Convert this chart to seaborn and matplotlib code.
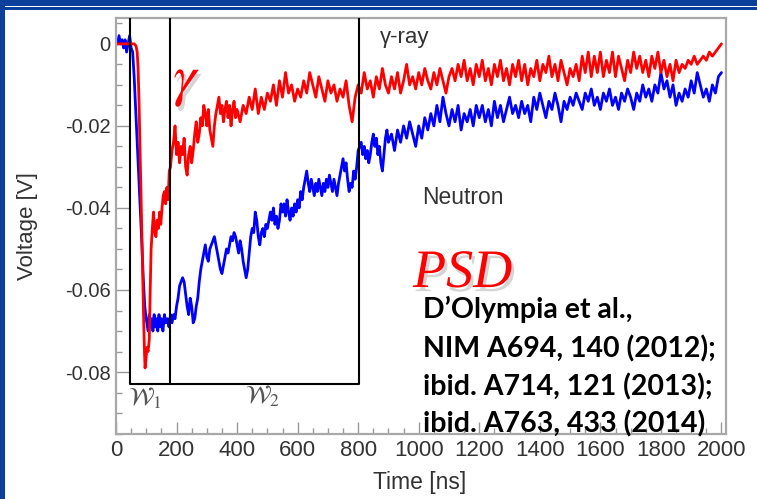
import numpy as np
import pandas as pd
import matplotlib
matplotlib.use("Agg")
import matplotlib.pyplot as plt
import matplotlib.patheffects as pe
from matplotlib.patches import Rectangle
from matplotlib.ticker import MultipleLocator
import seaborn as sns

# ---------------- data ----------------
# gamma-ray pulse (red): rising part sampled densely, tail every 10 ns
red_pulse_t = [0, 10, 20, 30, 40, 50, 60, 66, 70, 73, 76, 79, 82, 85, 88, 91, 94, 96, 99, 102,
               106, 110, 113, 116, 120, 124, 128, 132, 136, 140, 144, 148, 152, 156, 160, 164,
               168, 172, 176, 180, 185, 190, 195, 200, 205, 210, 215, 220, 225, 230, 235, 240,
               245, 250, 255, 260, 265, 270, 275, 280, 285, 290, 295, 300, 305, 310, 315, 320,
               325, 330, 335, 340, 345, 350, 355, 360, 365, 370, 375, 380, 385, 390, 395]
red_pulse_v = [0.000, 0.000, 0.000, 0.000, 0.000, 0.000, 0.000, -0.0005, -0.002, -0.006, -0.014,
               -0.024, -0.034, -0.045, -0.056, -0.066, -0.075, -0.079, -0.077, -0.074, -0.075,
               -0.072, -0.060, -0.050, -0.045, -0.041, -0.046, -0.047, -0.043, -0.045, -0.041,
               -0.044, -0.040, -0.037, -0.036, -0.039, -0.035, -0.038, -0.031, -0.030, -0.026,
               -0.024, -0.020, -0.027, -0.024, -0.029, -0.025, -0.027, -0.023, -0.030, -0.032,
               -0.027, -0.025, -0.029, -0.026, -0.022, -0.019, -0.024, -0.022, -0.018, -0.020,
               -0.015, -0.017, -0.020, -0.016, -0.021, -0.023, -0.025, -0.020, -0.017, -0.015,
               -0.013, -0.017, -0.015, -0.019, -0.016, -0.014, -0.018, -0.015, -0.020, -0.016,
               -0.014, -0.018]
red_tail_start = 400
red_tail_v = [-0.016, -0.019, -0.015, -0.017, -0.013, -0.016, -0.011, -0.017, -0.013, -0.016,
              -0.012, -0.014, -0.010, -0.015, -0.009, -0.013, -0.007, -0.012, -0.010, -0.014,
              -0.011, -0.013, -0.009, -0.012, -0.007, -0.010, -0.013, -0.008, -0.011, -0.014,
              -0.009, -0.012, -0.010, -0.014, -0.011, -0.013, -0.009, -0.015, -0.019, -0.013,
              -0.010, -0.012, -0.007, -0.011, -0.009, -0.013, -0.008, -0.011, -0.006, -0.010,
              -0.012, -0.008, -0.011, -0.007, -0.012, -0.009, -0.005, -0.010, -0.008, -0.011,
              -0.007, -0.010, -0.006, -0.009, -0.011, -0.007, -0.010, -0.006, -0.009, -0.012,
              -0.008, -0.006, -0.009, -0.005, -0.008, -0.004, -0.009, -0.006, -0.010, -0.005,
              -0.008, -0.004, -0.009, -0.006, -0.010, -0.005, -0.008, -0.004, -0.009, -0.006,
              -0.010, -0.005, -0.008, -0.004, -0.009, -0.005, -0.010, -0.006, -0.008, -0.004,
              -0.009, -0.005, -0.007, -0.003, -0.008, -0.005, -0.009, -0.004, -0.007, -0.010,
              -0.006, -0.008, -0.005, -0.009, -0.003, -0.007, -0.002, -0.008, -0.003, -0.007,
              -0.002, -0.008, -0.004, -0.007, -0.002, -0.008, -0.003, -0.006, -0.009, -0.004,
              -0.007, -0.002, -0.006, -0.003, -0.007, -0.004, -0.008, -0.003, -0.006, -0.002,
              -0.007, -0.004, -0.008, -0.005, -0.009, -0.004, -0.007, -0.005, -0.006, -0.004,
              -0.005, -0.003, -0.005, -0.004, -0.003, -0.004, -0.002, -0.003, -0.002, -0.001,
              0.000]

# neutron pulse (blue)
blue_pulse_t = [0, 5, 10, 15, 20, 25, 30, 35, 40, 45, 50, 55, 60, 65, 70, 75, 80, 85, 90, 95,
                98, 102, 106, 110, 114, 118, 122, 126, 130, 134, 138, 142, 146, 150, 155, 160,
                165, 170, 175, 180, 185, 190, 195]
blue_pulse_v = [0.001, 0.000, 0.002, 0.000, 0.001, -0.001, 0.001, -0.002, 0.000, 0.002, -0.001,
                -0.002, -0.008, -0.016, -0.024, -0.032, -0.040, -0.048, -0.057, -0.064, -0.066,
                -0.068, -0.070, -0.066, -0.069, -0.067, -0.070, -0.066, -0.069, -0.067, -0.070,
                -0.066, -0.069, -0.067, -0.070, -0.066, -0.068, -0.067, -0.069, -0.066, -0.068,
                -0.066, -0.067]
blue_mid_start = 200   # 5 ns steps
blue_mid_v = [-0.064, -0.062, -0.059, -0.058, -0.057, -0.058, -0.061, -0.064, -0.066, -0.062,
              -0.064, -0.068, -0.067, -0.064, -0.062, -0.058, -0.055, -0.053, -0.051, -0.049,
              -0.052, -0.053, -0.050, -0.049, -0.048, -0.047, -0.049, -0.051, -0.053, -0.055,
              -0.056, -0.054, -0.052, -0.050, -0.051, -0.049, -0.047, -0.048, -0.046, -0.047,
              -0.049, -0.051, -0.048, -0.050, -0.053, -0.055, -0.057, -0.055, -0.051, -0.047,
              -0.045, -0.046, -0.041, -0.043, -0.047, -0.049, -0.046, -0.045, -0.047, -0.044,
              -0.045, -0.043, -0.041, -0.043, -0.040, -0.044, -0.042, -0.045, -0.043, -0.039,
              -0.041, -0.039, -0.042, -0.038, -0.041, -0.043, -0.040, -0.042, -0.039, -0.041,
              -0.038, -0.040, -0.036, -0.038, -0.035, -0.033, -0.031, -0.034, -0.036, -0.033,
              -0.035, -0.037, -0.034, -0.036, -0.033, -0.035, -0.037, -0.034, -0.036, -0.033,
              -0.035, -0.032, -0.034, -0.036, -0.033, -0.035, -0.037, -0.034, -0.032, -0.030,
              -0.028, -0.031, -0.029, -0.033, -0.036, -0.034, -0.035, -0.031, -0.033, -0.030,
              -0.026, -0.025, -0.024, -0.027, -0.025, -0.028, -0.026, -0.029, -0.027, -0.024,
              -0.022, -0.025, -0.023, -0.027, -0.025, -0.029, -0.031, -0.027, -0.023, -0.021]
blue_tail_start = 900  # 10 ns steps
blue_tail_v = [-0.024, -0.022, -0.026, -0.021, -0.024, -0.020, -0.023, -0.019, -0.022, -0.025,
               -0.020, -0.023, -0.018, -0.021, -0.017, -0.020, -0.015, -0.019, -0.013, -0.017,
               -0.020, -0.016, -0.019, -0.015, -0.021, -0.017, -0.019, -0.016, -0.020, -0.015,
               -0.018, -0.015, -0.019, -0.016, -0.020, -0.014, -0.018, -0.015, -0.019, -0.016,
               -0.013, -0.017, -0.015, -0.018, -0.014, -0.017, -0.015, -0.019, -0.013, -0.016,
               -0.012, -0.015, -0.018, -0.014, -0.016, -0.012, -0.015, -0.019, -0.014, -0.016,
               -0.013, -0.015, -0.012, -0.014, -0.016, -0.012, -0.014, -0.011, -0.015, -0.013,
               -0.016, -0.012, -0.014, -0.011, -0.015, -0.013, -0.016, -0.012, -0.014, -0.011,
               -0.013, -0.016, -0.012, -0.014, -0.010, -0.013, -0.011, -0.014, -0.010, -0.012,
               -0.007, -0.011, -0.009, -0.013, -0.010, -0.015, -0.012, -0.014, -0.011, -0.013,
               -0.009, -0.012, -0.007, -0.010, -0.013, -0.011, -0.014, -0.010, -0.012, -0.008,
               -0.007]

window_edges = [47, 177, 802]          # ns
window_bottom = -0.0828                 # V
x_ticks = [0, 200, 400, 600, 800, 1000, 1200, 1400, 1600, 1800, 2000]
y_ticks = [0, -0.02, -0.04, -0.06, -0.08]
y_tick_labels = ["0", "-0.02", "-0.04", "-0.06", "-0.08"]

citation = ["D\u2019Olympia et al.,", "NIM A694, 140 (2012);",
            "ibid. A714, 121 (2013);", "ibid. A763, 433 (2014)"]

# ---------------- assemble ----------------
red_t = red_pulse_t + [red_tail_start + 10 * i for i in range(len(red_tail_v))]
red_v = red_pulse_v + red_tail_v
blue_t = (blue_pulse_t + [blue_mid_start + 5 * i for i in range(len(blue_mid_v))]
          + [blue_tail_start + 10 * i for i in range(len(blue_tail_v))])
blue_v = blue_pulse_v + blue_mid_v + blue_tail_v
df_red = pd.DataFrame({"t": red_t, "v": red_v})
df_blue = pd.DataFrame({"t": blue_t, "v": blue_v})

sns.set_theme(style="white")
plt.rcParams["font.family"] = ["Liberation Sans", "DejaVu Sans"]
plt.rcParams["mathtext.fontset"] = "stix"

W, H = 757, 499
SLIDE_BLUE = "#0a3f9c"
fig = plt.figure(figsize=(W / 100, H / 100), dpi=100)
fig.patch.set_facecolor("white")
# slide frame: blue strip on the left and a blue band on top with a thin white rule
fig.add_artist(Rectangle((0, 0), 5 / W, 1, transform=fig.transFigure,
                         facecolor=SLIDE_BLUE, edgecolor="none", zorder=-10))
fig.add_artist(Rectangle((0, 1 - 6 / H), 1, 6 / H, transform=fig.transFigure,
                         facecolor=SLIDE_BLUE, edgecolor="none", zorder=-10))
fig.add_artist(Rectangle((0, 1 - 10 / H), 1, 3 / H, transform=fig.transFigure,
                         facecolor=SLIDE_BLUE, edgecolor="none", zorder=-10))

ax = fig.add_axes([116 / W, 1 - 434 / H, (726 - 116) / W, (434 - 18) / H])
ax.set_zorder(2)
ax.set_facecolor("white")

sns.lineplot(data=df_blue, x="t", y="v", ax=ax, color="#0000ff", lw=2.0, sort=False,
             estimator=None)
sns.lineplot(data=df_red, x="t", y="v", ax=ax, color="#ff0000", lw=2.0, sort=False,
             estimator=None)

ax.set_xlim(0, 2015)
ax.set_ylim(-0.0951, 0.0063)

# integration windows
for xe in window_edges:
    ax.plot([xe, xe], [window_bottom, 0.0063], color="black", lw=1.5, zorder=5,
            solid_capstyle="butt")
ax.plot([window_edges[0], window_edges[-1]], [window_bottom, window_bottom], color="black",
        lw=1.5, zorder=5)

ax.set_xticks(x_ticks)
ax.set_yticks(y_ticks)
ax.set_yticklabels(y_tick_labels)
ax.xaxis.set_minor_locator(MultipleLocator(50))
ax.yaxis.set_minor_locator(MultipleLocator(0.005))
ax.tick_params(axis="both", which="major", direction="in", length=9, width=1,
               color="#999999", labelcolor="#333333", top=False, right=False,
               bottom=True, left=True)
ax.tick_params(axis="both", which="minor", direction="in", length=4.5, width=1,
               color="#999999", top=False, right=False, bottom=True, left=True)
ax.tick_params(axis="x", labelsize=16, pad=4)
ax.tick_params(axis="y", labelsize=14.5, pad=4)
for s in ax.spines.values():
    s.set_color("#a8a8a8")
    s.set_linewidth(1.6)

ax.set_xlabel("Time [ns]", fontsize=16.5, color="#333333")
ax.set_ylabel("Voltage [V]", fontsize=16, color="#333333")
ax.xaxis.set_label_coords((420 - 116) / 610, -(482 - 434) / 416)
ax.yaxis.set_label_coords(-(116 - 28) / 610, (434 - 226) / 416)
ax.yaxis.label.set_verticalalignment("center")
ax.xaxis.label.set_verticalalignment("center")

def fx(px):
    return px / W

def fy(py):
    return 1 - py / H

shadow = [pe.withSimplePatchShadow(offset=(2, -3), shadow_rgbFace="#888888", alpha=0.35)]

fig.text(fx(187), fy(82), r"$\gamma$", color="#ff0000", fontsize=42, ha="center",
         va="center", path_effects=shadow, zorder=10)
fig.text(fx(380), fy(38), "\u03b3-ray", color="#333333", fontsize=16, ha="left",
         va="center", zorder=10)
fig.text(fx(422), fy(197), "Neutron", color="#333333", fontsize=16.5, ha="left",
         va="center", zorder=10)
fig.text(fx(413), fy(287), "PSD", color="#ff0000", fontsize=39, style="italic",
         family=["Liberation Serif", "DejaVu Serif"], ha="left", va="baseline",
         path_effects=shadow, zorder=10)
fig.text(fx(145), fy(398), r"$\mathcal{W}_1$", color="#555555", fontsize=18,
         ha="center", va="center", zorder=10)
fig.text(fx(262), fy(396), r"$\mathcal{W}_2$", color="#555555", fontsize=18,
         ha="center", va="center", zorder=10)

baselines = [318, 357, 395, 432]
for line, b in zip(citation, baselines):
    fig.text(fx(423), fy(b), line, color="black", fontsize=20.5, fontweight="bold",
             family=["Lato", "DejaVu Sans"], ha="left", va="baseline", zorder=10)

fig.savefig("out.png", dpi=100, facecolor=fig.get_facecolor())
